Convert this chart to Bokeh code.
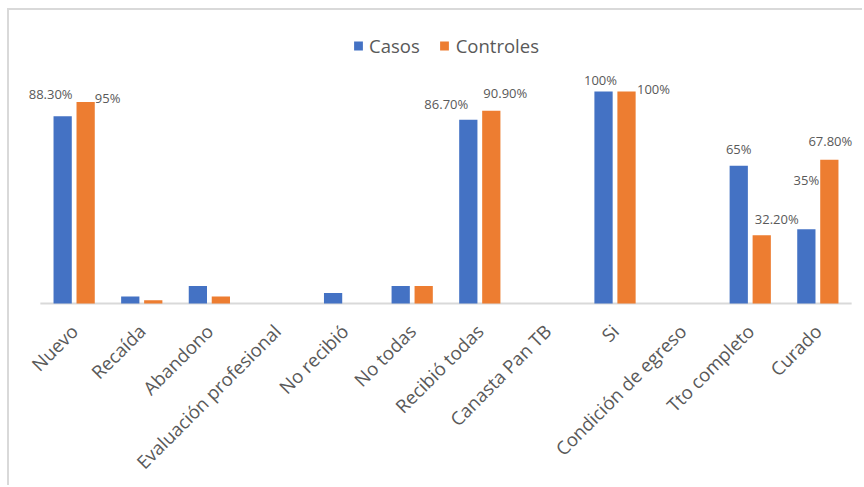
import math
from bokeh.plotting import figure
from bokeh.models import ColumnDataSource, Legend, LegendItem, InlineStyleSheet, FactorRange, Range1d
from bokeh.transform import dodge
from bokeh.core.properties import value
from bokeh.embed import file_html
from bokeh.resources import INLINE

categories = ["Nuevo", "Recaída", "Abandono", "Evaluación profesional", "No recibió",
              "No todas", "Recibió todas", "Canasta Pan TB", "Si", "Condición de egreso",
              "Tto completo", "Curado"]
casos = [88.3, 3.3, 8.3, 0, 5.0, 8.3, 86.7, 0, 100, 0, 65, 35]
controles = [95, 1.5, 3.3, 0, 0, 8.3, 90.9, 0, 100, 0, 32.2, 67.8]

casos_label_cats = ["Nuevo", "Recibió todas", "Si", "Tto completo", "Curado"]
casos_label_vals = [88.3, 86.7, 100, 65, 35]
casos_label_text = ["88.30%", "86.70%", "100%", "65%", "35%"]
controles_label_cats = ["Nuevo", "Recibió todas", "Si", "Tto completo", "Curado"]
controles_label_vals = [95, 90.9, 100, 32.2, 67.8]
controles_label_text = ["95%", "90.90%", "100%", "32.20%", "67.80%"]

# label pixel offsets (style; negative = up)
casos_dx = [-12, -22, -3, 0, 0]
casos_dy = [-22, -16, -11, -17, -49]
controles_dx = [22, 14, 27, 15, 1]
controles_dy = [-4, -18, -2, -16, -19]

BLUE = "#4472C4"
ORANGE = "#ED7D31"
TXT = "#595959"
GRID = "#d9d9d9"
FONT = "Open Sans"

src = ColumnDataSource(dict(cat=categories, casos=casos, controles=controles))
lab_a = ColumnDataSource(dict(cat=casos_label_cats, v=casos_label_vals, t=casos_label_text,
                              dx=casos_dx, dy=casos_dy))
lab_b = ColumnDataSource(dict(cat=controles_label_cats, v=controles_label_vals, t=controles_label_text,
                              dx=controles_dx, dy=controles_dy))
base_src = ColumnDataSource(dict(a=[categories[0]], b=[categories[-1]], y=[0]))

css = InlineStyleSheet(css=":host { margin: 8px 0 0 7px; border-top: 2px solid #d9d9d9; border-left: 2px solid #d9d9d9; }")

xr = FactorRange(factors=categories, range_padding=0.19, range_padding_units="absolute")
p = figure(x_range=xr, y_range=Range1d(-0.94, 131.1), width=855, height=477,
           output_backend="svg", toolbar_location=None,
           min_border_left=18, min_border_right=0, min_border_top=15, min_border_bottom=182,
           stylesheets=[css])
p.outline_line_color = None
p.xgrid.grid_line_color = None
p.ygrid.grid_line_color = None
p.yaxis.visible = False

# category baseline
p.segment(x0=dodge("a", -0.5, range=xr), x1=dodge("b", 0.5, range=xr), y0="y", y1="y",
          source=base_src, line_color=GRID, line_width=2)

r1 = p.vbar(x=dodge("cat", -0.17, range=xr), top="casos", width=0.27,
            source=src, fill_color=BLUE, line_color=None)
r2 = p.vbar(x=dodge("cat", 0.17, range=xr), top="controles", width=0.27,
            source=src, fill_color=ORANGE, line_color=None)

for s, off in ((lab_a, -0.17), (lab_b, 0.17)):
    p.text(x=dodge("cat", off, range=xr), y="v", text="t", source=s,
           x_offset="dx", y_offset="dy", text_align="center", text_baseline="middle",
           text_font=value(FONT), text_font_size="13px", text_color=TXT)

ax = p.xaxis[0]
ax.axis_line_color = None
ax.major_tick_line_color = None
ax.minor_tick_line_color = None
ax.major_label_orientation = math.pi / 4
ax.major_label_text_font = FONT
ax.major_label_text_font_size = "18.5px"
ax.major_label_text_color = TXT
ax.major_label_standoff = 16

legend = Legend(items=[LegendItem(label="Casos", renderers=[r1]),
                       LegendItem(label="Controles", renderers=[r2])],
                location="top_center", orientation="horizontal")
legend.label_text_font = FONT
legend.label_text_font_size = "18.5px"
legend.label_text_color = TXT
legend.glyph_width = 11
legend.glyph_height = 11
legend.label_standoff = 6
legend.spacing = 19
legend.border_line_color = None
legend.background_fill_alpha = 0
legend.padding = 0
legend.margin = 8
p.add_layout(legend)

open("out.html", "w").write(file_html(p, INLINE))
